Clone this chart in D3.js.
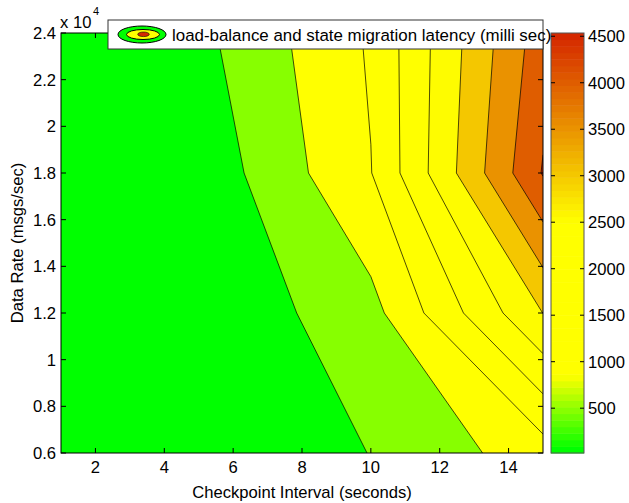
<!DOCTYPE html>
<html>
<head>
<meta charset="utf-8">
<script src="https://cdn.jsdelivr.net/npm/d3@7/dist/d3.min.js"></script>
<style>
body { margin: 0; background: #fff; }
text { font-family: Arial, 'Liberation Sans', Helvetica, sans-serif; fill: #000; }
</style>
</head>
<body>
<svg width="629" height="503"></svg>
<script>
// grid the contour was made from
var checkpointIntervals = [1, 5, 10, 15];
var dataRates = [6000, 12000, 18000, 24000];
// latency (ms), one row per data rate, one column per checkpoint interval
var latency = [
    [18, 60, 510, 1265],
    [40, 64, 830, 3005],
    [70, 148, 1484, 4535],
    [110, 373, 1562, 4265]
];
var contourLevels = [500, 1000, 1500, 2000, 2500, 3000, 3500, 4000, 4500];
var xTicks = [2, 4, 6, 8, 10, 12, 14];
var yTicks = [6000, 8000, 10000, 12000, 14000, 16000, 18000, 20000, 22000, 24000];
var colorbarTicks = [500, 1000, 1500, 2000, 2500, 3000, 3500, 4000, 4500];
var legendLabel = 'load-balance and state migration latency (milli sec)';

var svg = d3.select('svg');
var fontSize = 16.6;

var plotLeft = 61, plotRight = 543, plotTop = 33, plotBottom = 453;
var x = d3.scaleLinear().domain([1, 15]).range([plotLeft, plotRight]);
var y = d3.scaleLinear().domain([6000, 24000]).range([plotBottom, plotTop]);

// colour limits from the data, like caxis auto
var flat = d3.merge(latency);
var cmin = d3.min(flat), cmax = d3.max(flat);
var ramp = d3.scaleLinear()
    .domain([0, 0.18, 0.55, 1])
    .range(['#00ff00', '#ffff00', '#ffff00', '#d52800']);
var nColors = 64;
function cmap(v) {
    var t = (v - cmin) / (cmax - cmin);
    var idx = Math.max(0, Math.min(nColors - 1, Math.floor(t * nColors)));
    return ramp(idx / (nColors - 1));
}

// d3.contours puts sample i at i + 0.5, so map that back onto the real grid
var gx = d3.scaleLinear().domain([0.5, 1.5, 2.5, 3.5]).range(checkpointIntervals);
var gy = d3.scaleLinear().domain([0.5, 1.5, 2.5, 3.5]).range(dataRates);

var values = [];
latency.forEach(function(row) {
    row.forEach(function(v) { values.push(v); });
});
var contours = d3.contours()
    .size([checkpointIntervals.length, dataRates.length])
    .thresholds(contourLevels)(values);

function polyPath(geom) {
    return geom.coordinates.map(function(poly) {
        return poly.map(function(ring) {
            return 'M' + ring.map(function(p) {
                return [x(gx(p[0])).toFixed(2), y(gy(p[1])).toFixed(2)];
            }).join('L') + 'Z';
        }).join('');
    }).join('');
}

svg.append('clipPath')
    .attr('id', 'plotClip')
    .append('rect')
    .attr('x', plotLeft).attr('y', plotTop)
    .attr('width', plotRight - plotLeft).attr('height', plotBottom - plotTop);

var plotG = svg.append('g').attr('clip-path', 'url(#plotClip)');
plotG.append('rect')
    .attr('x', plotLeft).attr('y', plotTop)
    .attr('width', plotRight - plotLeft).attr('height', plotBottom - plotTop)
    .attr('fill', cmap(cmin));
plotG.selectAll('.band')
    .data(contours)
    .enter()
    .append('path')
    .attr('class', 'band')
    .attr('d', polyPath)
    .attr('fill', function(d) { return cmap(d.value); })
    .attr('fill-rule', 'evenodd')
    .attr('stroke', '#000')
    .attr('stroke-width', 0.7);

// axes box + inward ticks on all sides
var axisG = svg.append('g');
axisG.append('rect')
    .attr('x', plotLeft).attr('y', plotTop)
    .attr('width', plotRight - plotLeft).attr('height', plotBottom - plotTop)
    .attr('fill', 'none').attr('stroke', '#000').attr('stroke-width', 1);
xTicks.forEach(function(t) {
    axisG.append('line').attr('x1', x(t)).attr('x2', x(t)).attr('y1', plotBottom).attr('y2', plotBottom - 5).attr('stroke', '#000');
    axisG.append('line').attr('x1', x(t)).attr('x2', x(t)).attr('y1', plotTop).attr('y2', plotTop + 5).attr('stroke', '#000');
    axisG.append('text')
        .attr('x', x(t)).attr('y', 473)
        .attr('text-anchor', 'middle')
        .style('font-size', fontSize + 'px')
        .text(t);
});
yTicks.forEach(function(t) {
    axisG.append('line').attr('x1', plotLeft).attr('x2', plotLeft + 5).attr('y1', y(t)).attr('y2', y(t)).attr('stroke', '#000');
    axisG.append('line').attr('x1', plotRight).attr('x2', plotRight - 5).attr('y1', y(t)).attr('y2', y(t)).attr('stroke', '#000');
    axisG.append('text')
        .attr('x', 56).attr('y', y(t) + 6)
        .attr('text-anchor', 'end')
        .style('font-size', fontSize + 'px')
        .text(String(+(t / 1e4).toFixed(2)));
});

// exponent label
axisG.append('text').attr('x', 60).attr('y', 28).style('font-size', fontSize + 'px').text('x 10');
axisG.append('text').attr('x', 93).attr('y', 15).style('font-size', '11px').text('4');

axisG.append('text')
    .attr('x', (plotLeft + plotRight) / 2).attr('y', 498)
    .attr('text-anchor', 'middle')
    .style('font-size', fontSize + 'px')
    .text('Checkpoint Interval (seconds)');
axisG.append('text')
    .attr('transform', 'translate(23,' + ((plotTop + plotBottom) / 2) + ') rotate(-90)')
    .attr('text-anchor', 'middle')
    .style('font-size', fontSize + 'px')
    .text('Data Rate (msgs/sec)');

// colorbar
var cbLeft = 551, cbRight = 584;
var cy = d3.scaleLinear().domain([cmin, cmax]).range([plotBottom, plotTop]);
var cbG = svg.append('g');
cbG.selectAll('.cb')
    .data(d3.range(nColors))
    .enter()
    .append('rect')
    .attr('class', 'cb')
    .attr('x', cbLeft)
    .attr('width', cbRight - cbLeft)
    .attr('y', function(k) { return plotBottom - (k + 1) * (plotBottom - plotTop) / nColors; })
    .attr('height', (plotBottom - plotTop) / nColors + 0.5)
    .attr('fill', function(k) { return ramp(k / (nColors - 1)); });
cbG.append('rect')
    .attr('x', cbLeft).attr('y', plotTop)
    .attr('width', cbRight - cbLeft).attr('height', plotBottom - plotTop)
    .attr('fill', 'none').attr('stroke', '#555').attr('stroke-width', 1);
colorbarTicks.forEach(function(t) {
    cbG.append('line').attr('x1', cbLeft).attr('x2', cbLeft + 4).attr('y1', cy(t)).attr('y2', cy(t)).attr('stroke', '#000');
    cbG.append('line').attr('x1', cbRight).attr('x2', cbRight - 4).attr('y1', cy(t)).attr('y2', cy(t)).attr('stroke', '#000');
    cbG.append('text')
        .attr('x', 588).attr('y', cy(t) + 6)
        .style('font-size', fontSize + 'px')
        .text(t);
});

// legend
var legG = svg.append('g');
legG.append('rect')
    .attr('x', 108).attr('y', 20)
    .attr('width', plotRight - 108).attr('height', 29)
    .attr('fill', '#fff').attr('stroke', '#333').attr('stroke-width', 1);
legG.append('ellipse').attr('cx', 142).attr('cy', 34.5).attr('rx', 24).attr('ry', 8.5)
    .attr('fill', cmap(cmin)).attr('stroke', '#000');
legG.append('ellipse').attr('cx', 143).attr('cy', 34.5).attr('rx', 16.5).attr('ry', 5)
    .attr('fill', cmap(2000)).attr('stroke', '#000');
legG.append('ellipse').attr('cx', 143.5).attr('cy', 34.3).attr('rx', 5.8).attr('ry', 2.3)
    .attr('fill', cmap(4500)).attr('stroke', '#000').attr('stroke-width', 0.6);
legG.append('text')
    .attr('x', 172).attr('y', 41)
    .style('font-size', '16.9px')
    .text(legendLabel);
</script>
</body>
</html>
